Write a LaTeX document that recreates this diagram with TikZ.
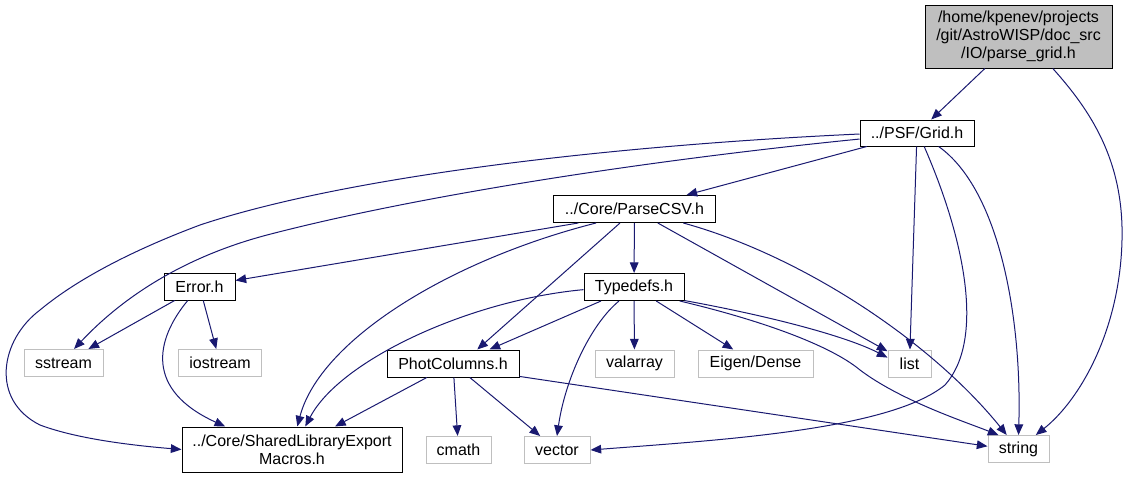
\documentclass[tikz,border=0pt]{standalone}
\usepackage{fontspec}
\setmainfont{Liberation Sans}
\usetikzlibrary{arrows.meta}
\definecolor{edgeblue}{RGB}{25,25,112}
\definecolor{extgray}{RGB}{191,191,191}

\begin{document}
\begin{tikzpicture}[
      x=0.75pt, y=-0.75pt,
      >={Triangle[length=8pt,width=6.5pt]},
      hdr/.style={draw=black,line width=0.75pt,minimum height=20.25pt,inner sep=1pt,font=\fontsize{12}{13.5}\selectfont},
      cur/.style={hdr,fill=extgray,align=center},
      ext/.style={hdr,draw=extgray},
      dep/.style={->,draw=edgeblue,line width=0.75pt},
    ]
    \useasboundingbox (0,0) rectangle (1125,479);
    \node[cur,minimum width=140.25pt,minimum height=47.25pt] (pgrid) at (1018.5,36.5) {/home/kpenev/projects\\/git/AstroWISP/doc\_src\\/IO/parse\_grid.h};
    \node[hdr,minimum width=85.5pt,minimum height=19.5pt] (grid) at (917,133) {../PSF/Grid.h};
    \node[hdr,minimum width=121pt] (parsecsv) at (634.5,209) {../Core/ParseCSV.h};
    \node[hdr,minimum width=53.25pt] (error) at (199.5,286.5) {Error.h};
    \node[hdr,minimum width=75pt] (typedefs) at (634,287) {Typedefs.h};
    \node[ext,minimum width=59.25pt] (sstream) at (63.5,363) {sstream};
    \node[ext,minimum width=62.25pt] (iostream) at (220,363) {iostream};
    \node[hdr,minimum width=99pt] (photcol) at (453,363.5) {PhotColumns.h};
    \node[ext,minimum width=59.25pt] (valarray) at (634.5,363.5) {valarray};
    \node[ext,minimum width=86.25pt] (eigen) at (755.5,363.5) {Eigen/Dense};
    \node[ext,minimum width=32.25pt] (list) at (909.5,363.5) {list};
    \node[hdr,minimum width=165pt,minimum height=33.75pt,align=center] (shared) at (292,449.5) {../Core/SharedLibraryExport\\Macros.h};
    \node[ext,minimum width=48.75pt] (cmath) at (458.5,450) {cmath};
    \node[ext,minimum width=49.5pt] (vector) at (557,450) {vector};
    \node[ext,minimum width=45.75pt] (string) at (1018.5,449) {string};

    \draw[dep] (pgrid) -- (grid);
    \draw[dep] (pgrid.-43) .. controls (1090,110) and (1124,160) .. (1122,240) .. controls (1120,330) and (1080,400) .. (string.39);
    \draw[dep] (grid) -- (parsecsv);
    \draw[dep] (grid.181) .. controls (620,145) and (350,175) .. (200,225) .. controls (120,255) and (70,285) .. (40,310) .. controls (0,340) and (-10,400) .. (40,425) .. controls (80,440) and (140,446) .. (shared.west);
    \draw[dep] (grid.186) .. controls (650,160) and (420,195) .. (267,235) .. controls (180,258) and (120,300) .. (sstream.53);
    \draw[dep] (grid) -- (list);
    \draw[dep] (grid.-62) .. controls (965,240) and (985,340) .. (945,385) .. controls (890,430) and (720,440) .. (vector.east);
    \draw[dep] (grid.-32) .. controls (1000,190) and (1022,320) .. (string.north);
    \draw[dep] (parsecsv.194) -- (error);
    \draw[dep] (parsecsv.200) .. controls (450,260) and (320,340) .. (shared.77);
    \draw[dep] (parsecsv.-136) -- (photcol.30);
    \draw[dep] (parsecsv) -- (typedefs);
    \draw[dep] (parsecsv.-31) -- (list);
    \draw[dep] (parsecsv.-16) .. controls (800,255) and (930,340) .. (string.130);
    \draw[dep] (error) -- (sstream);
    \draw[dep] (error) -- (iostream);
    \draw[dep] (error.-130) .. controls (155,340) and (145,390) .. (shared.161);
    \draw[dep] (typedefs.183) .. controls (470,300) and (340,360) .. (shared.60);
    \draw[dep] (typedefs.-157) -- (photcol.21);
    \draw[dep] (typedefs.-137) .. controls (590,325) and (565,380) .. (vector.north);
    \draw[dep] (typedefs) -- (valarray);
    \draw[dep] (typedefs) -- (eigen);
    \draw[dep] (typedefs.-15) .. controls (780,318) and (850,338) .. (list.165);
    \draw[dep] (typedefs.-17) .. controls (760,320) and (830,345) .. (860,370) .. controls (900,400) and (960,420) .. (string.145);
    \draw[dep] (photcol) -- (shared);
    \draw[dep] (photcol) -- (cmath);
    \draw[dep] (photcol) -- (vector);
    \draw[dep] (photcol.-11) -- (string.175);
  \end{tikzpicture}
\end{document}
